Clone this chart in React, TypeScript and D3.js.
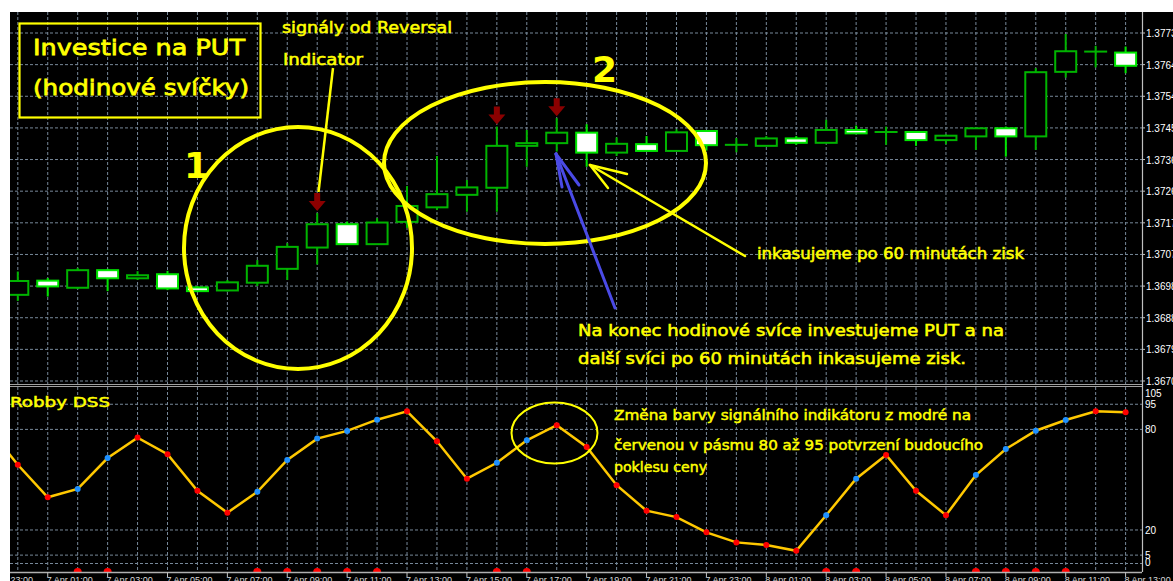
import React from 'react';
import * as d3 from 'd3';

const W = 1173;
const H = 581;

// Hourly candles: bar 0 = 7 Apr 00:00 ... bar 37 = 8 Apr 13:00
const opens = [1.36955, 1.36997, 1.36976, 1.37028, 1.37004, 1.37016, 1.36977, 1.36968, 1.36991, 1.37032,
  1.37095, 1.37164, 1.37105, 1.37171, 1.37214, 1.37251, 1.37272, 1.37396, 1.37404, 1.37435,
  1.37376, 1.37401, 1.37381, 1.3744, 1.37398, 1.37396, 1.37418, 1.37405, 1.37443, 1.37436,
  1.37437, 1.37413, 1.37424, 1.37448, 1.37424, 1.37615, 1.37674, 1.37672];
const highs = [1.37024, 1.37005, 1.37035, 1.37032, 1.37025, 1.37026, 1.36981, 1.36999, 1.37058, 1.37108,
  1.37197, 1.37172, 1.37182, 1.37277, 1.37366, 1.37295, 1.37453, 1.37443, 1.37478, 1.3746,
  1.37421, 1.37425, 1.37445, 1.3744, 1.37419, 1.37425, 1.37425, 1.37473, 1.37456, 1.37453,
  1.3744, 1.3743, 1.37449, 1.37453, 1.37626, 1.37727, 1.37692, 1.3769];
const lows = [1.36937, 1.3695, 1.36972, 1.36966, 1.36999, 1.36969, 1.36963, 1.36965, 1.36981, 1.36999,
  1.37045, 1.37103, 1.37103, 1.37153, 1.37206, 1.37201, 1.37201, 1.37334, 1.37379, 1.37334,
  1.37366, 1.37381, 1.37381, 1.37382, 1.37377, 1.37395, 1.37399, 1.37404, 1.37433, 1.37399,
  1.37396, 1.37401, 1.37384, 1.37364, 1.37384, 1.37598, 1.37628, 1.37611];
const closes = [1.36996, 1.3698, 1.37028, 1.37004, 1.37013, 1.36974, 1.36966, 1.36992, 1.37041, 1.37097,
  1.37164, 1.37105, 1.37169, 1.37218, 1.37253, 1.37273, 1.37396, 1.37404, 1.37435, 1.37376,
  1.37402, 1.37381, 1.37436, 1.37398, 1.37399, 1.37418, 1.37405, 1.37443, 1.37433, 1.37437,
  1.37413, 1.37426, 1.37448, 1.37424, 1.37614, 1.37676, 1.37675, 1.37633];

// Reversal Indicator down-arrow signals (bar indexes)
const reversalSignalBars = [10, 16, 18];

const priceTickLabels = ['1.3670', '1.3679', '1.3688', '1.3698', '1.3707', '1.3717',
  '1.3726', '1.3736', '1.3745', '1.3754', '1.3764', '1.3773'];
const priceMin = 1.367;
const priceMax = 1.3773;

// Robby DSS values, from bar -1 (6 Apr 23:00) to bar 37
const dssValues = [81.1, 58.9, 39.5, 44.5, 62.9, 75.1, 65.2, 43.4, 30.3, 42.8, 61.8,
  74.5, 79.1, 85.8, 90.8, 72.9, 50.6, 60.1, 73.5, 82.5, 69.5,
  46.7, 31.5, 27.7, 18.6, 12.6, 11.0, 7.6, 28.8, 50.6, 64.7,
  43.4, 28.8, 52.8, 68.3, 79.2, 85.6, 90.8, 90.2];
// signal colour state of each DSS point (b = blue, r = red), same order
const dssStates = ['r', 'r', 'r', 'b', 'b', 'r', 'r', 'r', 'r', 'b', 'b',
  'b', 'b', 'b', 'r', 'r', 'r', 'b', 'b', 'r', 'r',
  'r', 'r', 'r', 'r', 'r', 'r', 'r', 'b', 'b', 'r',
  'r', 'r', 'b', 'b', 'b', 'b', 'r', 'r'];
const dssTickLabels = [105, 95, 80, 20, 5, 0];
const dssGridLevels = [95, 80, 20, 5, 0];
const dssDotLevel = -5;

const timeTickBars = [-1, 1, 3, 5, 7, 9, 11, 13, 15, 17, 19, 21, 23, 25, 27, 29, 31, 33, 35, 37];
const timeTickLabels = ['6 Apr 23:00', '7 Apr 01:00', '7 Apr 03:00', '7 Apr 05:00', '7 Apr 07:00',
  '7 Apr 09:00', '7 Apr 11:00', '7 Apr 13:00', '7 Apr 15:00', '7 Apr 17:00', '7 Apr 19:00',
  '7 Apr 21:00', '7 Apr 23:00', '8 Apr 01:00', '8 Apr 03:00', '8 Apr 05:00', '8 Apr 07:00',
  '8 Apr 09:00', '8 Apr 11:00', '8 Apr 13:00'];

const YEL = '#ffff00';
const HAND = '"DejaVu Sans", sans-serif';
const AXISF = 'Tahoma, "Liberation Sans", Arial, sans-serif';
const GRID = '#778899';

export default function App() {
  const left = 10, top = 12, right = 1142, mainBottom = 384, indTop = 387, indBottom = 572;
  const x = d3.scaleLinear().domain([0, 37]).range([17.8, 1125.6]);
  const yP = d3.scaleLinear().domain([priceMin, priceMax]).range([381, 33]);
  const yD = d3.scaleLinear().domain([0, 105]).range([563.5, 387.5]);
  const priceTicks = priceTickLabels.map((l, i) => ({
    l, v: priceMin + (i * (priceMax - priceMin)) / (priceTickLabels.length - 1),
  }));
  const gridBars = d3.range(-1, 39);
  const bars = opens.map((o, i) => ({ i, o, h: highs[i], l: lows[i], c: closes[i] }));
  const dssPts = dssValues.map((v, k) => ({ i: k - 1, v, s: dssStates[k] }));
  const line = d3.line<any>().x((d) => x(d.i)).y((d) => yD(d.v));
  const bodyW = 21;
  const hand = (xx: number, yy: number, size: number, len: number, s: string) => (
    <text x={xx} y={yy} fill={YEL} stroke={YEL} strokeWidth={size * 0.035} fontFamily={HAND} fontSize={size}
      textLength={len} lengthAdjust="spacingAndGlyphs">{s}</text>
  );

  return (
    <svg width={W} height={H} style={{ position: 'absolute', left: 0, top: 0, display: 'block' }}>
      <defs>
        <clipPath id="mainClip"><rect x={left} y={top} width={right - left} height={mainBottom - top} /></clipPath>
        <clipPath id="indClip"><rect x={left} y={indTop} width={right - left} height={indBottom - indTop} /></clipPath>
        <clipPath id="axisClip"><rect x={left} y={indBottom} width={W - left} height={H - indBottom} /></clipPath>
      </defs>
      <rect x={0} y={0} width={W} height={H} fill="#ffffff" />
      <rect x={left} y={top} width={W - left} height={H - top} fill="#000000" />

      {/* main panel */}
      <g clipPath="url(#mainClip)">
        {priceTicks.map((t) => (
          <line key={'hg' + t.l} x1={left} x2={right} y1={yP(t.v)} y2={yP(t.v)} stroke={GRID} strokeDasharray="3,2" strokeWidth={1} />
        ))}
        {gridBars.map((b) => (
          <line key={'vg' + b} x1={x(b)} x2={x(b)} y1={top} y2={mainBottom} stroke={GRID} strokeDasharray="3,2" strokeWidth={1} />
        ))}
        {bars.map((d) => {
          const bull = d.c >= d.o;
          const col = bull ? '#00b400' : '#00e600';
          const yTop = yP(Math.max(d.o, d.c));
          const yBot = yP(Math.min(d.o, d.c));
          const cx = x(d.i);
          return (
            <g key={'c' + d.i}>
              <line x1={cx} x2={cx} y1={yP(d.h)} y2={yP(d.l)} stroke={col} strokeWidth={2} />
              {yBot - yTop < 1.5 ? (
                <line x1={cx - bodyW / 2 - 1} x2={cx + bodyW / 2 + 1} y1={yTop} y2={yTop} stroke={col} strokeWidth={2} />
              ) : (
                <rect x={cx - bodyW / 2} y={yTop} width={bodyW} height={yBot - yTop} fill={bull ? '#000000' : '#ffffff'} stroke={col} strokeWidth={2} />
              )}
            </g>
          );
        })}
        {reversalSignalBars.map((b) => {
          const cx = x(b);
          const tip = yP(highs[b]) - 2;
          const t0 = tip - 18;
          const p = `M${cx - 3},${t0} L${cx + 3},${t0} L${cx + 3},${t0 + 8} L${cx + 8.5},${t0 + 8} L${cx},${tip} L${cx - 8.5},${t0 + 8} L${cx - 3},${t0 + 8} Z`;
          return <path key={'ar' + b} d={p} fill="#8b0000" />;
        })}

        {/* annotations */}
        <rect x={19.5} y={23.5} width={241} height={94} fill="none" stroke={YEL} strokeWidth={2.2} />
        {hand(33, 55, 22, 212, 'Investice na PUT')}
        {hand(33, 95, 22, 216, '(hodinové svíčky)')}
        {hand(282, 33, 16, 170, 'signály od Reversal')}
        {hand(283, 65, 16, 80, 'Indicator')}
        <line x1={333} y1={68} x2={318.5} y2={192} stroke={YEL} strokeWidth={2.5} />
        <text x={184} y={178} fill={YEL} fontFamily={HAND} fontSize={36} fontWeight="bold">1</text>
        <text x={592} y={82} fill={YEL} fontFamily={HAND} fontSize={36} fontWeight="bold">2</text>
        <ellipse cx={298} cy={248} rx={114} ry={121} fill="none" stroke={YEL} strokeWidth={4} />
        <ellipse cx={545} cy={163} rx={161} ry={81} fill="none" stroke={YEL} strokeWidth={4} />
        <g stroke="#4a4ae6" strokeWidth={3} strokeLinecap="round">
          <line x1={615} y1={308} x2={556} y2={154} />
          <line x1={556} y1={154} x2={562} y2={187} />
          <line x1={556} y1={154} x2={579} y2={185} />
        </g>
        <g stroke={YEL} strokeWidth={2.5} strokeLinecap="round">
          <line x1={745} y1={256} x2={590} y2={165} />
          <line x1={590} y1={165} x2={608} y2={188} />
          <line x1={590} y1={165} x2={627} y2={174} />
        </g>
        {hand(757, 259, 16, 267, 'inkasujeme po 60 minutách zisk')}
        {hand(578, 336, 16, 426, 'Na konec hodinové svíce investujeme PUT a na')}
        {hand(578, 364, 16, 388, 'další svíci po 60 minutách inkasujeme zisk.')}
      </g>

      {/* separator */}
      <line x1={left} x2={right} y1={384.5} y2={384.5} stroke="#a0a0a0" strokeWidth={1} />
      <line x1={left} x2={right} y1={386.5} y2={386.5} stroke="#a0a0a0" strokeWidth={1} />

      {/* indicator panel */}
      <g clipPath="url(#indClip)">
        {dssGridLevels.map((v) => (
          <line key={'dg' + v} x1={left} x2={right} y1={yD(v)} y2={yD(v)} stroke={GRID} strokeDasharray="3,2" strokeWidth={1} />
        ))}
        {gridBars.map((b) => (
          <line key={'dv' + b} x1={x(b)} x2={x(b)} y1={indTop} y2={indBottom} stroke={GRID} strokeDasharray="3,2" strokeWidth={1} />
        ))}
        <path d={line(dssPts) || ''} fill="none" stroke="#ffc800" strokeWidth={2.5} />
        {dssPts.map((d) => (
          <circle key={'dp' + d.i} cx={x(d.i)} cy={yD(d.v)} r={3} fill={d.s === 'b' ? '#1e90ff' : '#ff0000'} />
        ))}
        {dssPts.filter((d) => d.s === 'b').map((d) => (
          <circle key={'dd' + d.i} cx={x(d.i)} cy={yD(dssDotLevel)} r={4} fill="#ff0000" />
        ))}
        {hand(10, 407, 14, 100, 'Robby DSS')}
        <ellipse cx={554.5} cy={433} rx={43} ry={30.5} fill="none" stroke={YEL} strokeWidth={2} />
        {hand(614, 420, 14, 357, 'Změna barvy signálního indikátoru z modré na')}
        {hand(614, 450, 14, 369, 'červenou v pásmu 80 až 95 potvrzení budoucího')}
        {hand(614, 472, 14, 93, 'poklesu ceny')}
      </g>

      {/* axes */}
      <line x1={left} x2={right} y1={572.5} y2={572.5} stroke="#b0b0b0" strokeWidth={1.5} />
      <line x1={right + 0.5} x2={right + 0.5} y1={top} y2={572} stroke="#c0c0c0" strokeWidth={1.2} />
      {priceTicks.map((t) => (
        <g key={'pt' + t.l}>
          <line x1={right} x2={right + 3} y1={yP(t.v)} y2={yP(t.v)} stroke="#c0c0c0" />
          <text x={1146} y={yP(t.v) + 4} fill="#ffffff" fontFamily={AXISF} fontSize={10}>{t.l}</text>
        </g>
      ))}
      {dssTickLabels.map((v) => (
        <text key={'dt' + v} x={1145} y={Math.max(397, Math.min(566, yD(v) + 4))} fill="#ffffff" fontFamily={AXISF} fontSize={10}>{v}</text>
      ))}
      <g clipPath="url(#axisClip)">
        {timeTickBars.map((b, k) => (
          <g key={'tt' + b}>
            <line x1={x(b)} x2={x(b)} y1={572} y2={577} stroke="#c0c0c0" />
            <text x={x(b) - 1} y={583} fill="#d8d8d8" fontFamily={AXISF} fontSize={9}>{timeTickLabels[k]}</text>
          </g>
        ))}
      </g>
    </svg>
  );
}
